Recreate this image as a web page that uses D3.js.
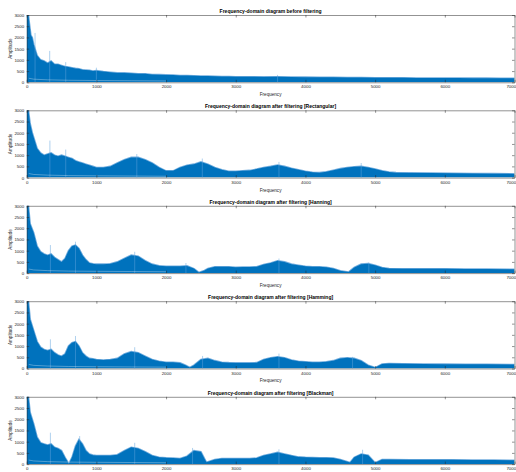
<!DOCTYPE html>
<html>
<head>
<meta charset="utf-8">
<script src="https://cdn.jsdelivr.net/npm/d3@7"></script>
<style>
  body { margin: 0; background: #fff; }
  svg { display: block; font-family: "Liberation Sans", Arial, sans-serif; }
  .axis path, .axis line { stroke: #262626; stroke-width: 0.5; }
  .axis text { fill: #262626; font-size: 4.4px; }
</style>
</head>
<body>
<svg id="chart"></svg>
<script>
// tick values
var freqTicks = [0, 1000, 2000, 3000, 4000, 5000, 6000, 7000];
var ampTicks = [0, 500, 1000, 1500, 2000, 2500, 3000];

var titles = [
  "Frequency-domain diagram before filtering",
  "Frequency-domain diagram after filtering [Rectangular]",
  "Frequency-domain diagram after filtering [Hanning]",
  "Frequency-domain diagram after filtering [Hamming]",
  "Frequency-domain diagram after filtering [Blackman]"
];

// envelope of the spectrum, [frequency, amplitude]
var before = [[0,3000],[25,3000],[40,2600],[60,2100],[80,2000],[100,1700],[150,1200],[200,1000],
  [250,950],[300,850],[350,950],[400,800],[450,800],[500,750],[550,700],[600,680],[650,650],
  [700,620],[750,600],[800,560],[850,550],[900,540],[950,500],[1000,520],[1100,480],[1200,450],
  [1300,420],[1400,420],[1500,400],[1600,380],[1700,380],[1800,350],[1900,340],[2000,330],
  [2100,320],[2200,300],[2300,300],[2400,290],[2500,280],[2600,280],[2700,270],[2800,260],
  [2900,260],[3000,250],[3200,245],[3400,240],[3600,250],[3800,235],[4000,230],[4200,225],
  [4400,220],[4600,215],[4800,210],[5000,205],[5200,205],[5400,200],[5600,195],[5800,195],
  [6000,190],[6200,190],[6400,185],[6600,185],[6800,180],[7000,175]];

var rectangular = [[0,3000],[25,3000],[50,2400],[80,2000],[100,1800],[150,1300],[200,1100],
  [250,1000],[300,1050],[350,1100],[400,1000],[450,950],[500,1000],[550,950],[600,900],
  [650,850],[700,750],[750,700],[800,650],[850,600],[900,550],[950,500],[1000,450],[1100,450],
  [1200,500],[1300,650],[1400,800],[1500,900],[1600,900],[1700,800],[1800,650],[1900,450],
  [2000,300],[2100,300],[2200,450],[2300,550],[2400,600],[2500,700],[2600,600],[2700,450],
  [2800,350],[2900,280],[3000,280],[3100,300],[3200,320],[3300,380],[3400,450],[3500,500],
  [3600,560],[3700,500],[3800,420],[3900,350],[4000,280],[4100,240],[4200,220],[4300,260],
  [4400,330],[4500,400],[4600,450],[4700,480],[4800,500],[4900,450],[5000,380],[5100,300],
  [5200,250],[5300,220],[5500,210],[5800,200],[6100,190],[6400,185],[6700,175],[7000,165]];

var hanning = [[0,3000],[25,3000],[50,2200],[100,1800],[150,1200],[200,950],[250,850],
  [300,800],[350,850],[400,700],[450,600],[500,500],[550,650],[600,1000],[650,1200],[700,1250],
  [750,1100],[800,800],[850,600],[900,450],[950,420],[1000,400],[1100,400],[1200,420],
  [1300,500],[1400,650],[1500,800],[1600,750],[1700,550],[1800,400],[1900,330],[2000,300],
  [2100,300],[2200,300],[2300,320],[2400,200],[2470,30],[2550,120],[2600,200],[2700,280],
  [2800,280],[2900,280],[3000,260],[3100,270],[3200,270],[3300,280],[3400,380],[3500,450],
  [3600,550],[3700,500],[3800,400],[3900,350],[4000,300],[4100,280],[4200,280],[4300,260],
  [4400,200],[4500,100],[4620,50],[4700,250],[4800,400],[4900,420],[5000,350],[5100,250],
  [5200,200],[5400,195],[5700,190],[6000,190],[6300,185],[6600,180],[7000,170]];

var hamming = [[0,3000],[25,3000],[50,2200],[100,1700],[150,1200],[200,950],[250,850],
  [300,800],[350,850],[400,700],[450,600],[500,550],[550,650],[600,1000],[650,1150],[700,1200],
  [750,1000],[800,700],[850,550],[900,450],[950,430],[1000,400],[1100,380],[1200,400],
  [1300,450],[1400,650],[1500,750],[1600,700],[1700,550],[1800,400],[1900,320],[2000,280],
  [2100,280],[2200,250],[2280,150],[2340,50],[2400,150],[2500,400],[2600,450],[2700,350],
  [2800,280],[2900,260],[3000,250],[3100,250],[3200,250],[3300,260],[3400,400],[3500,480],
  [3600,520],[3700,480],[3800,380],[3900,320],[4000,300],[4100,280],[4200,280],[4300,300],
  [4400,350],[4500,450],[4600,480],[4700,450],[4800,350],[4900,150],[5000,40],[5100,200],
  [5200,220],[5400,210],[5700,200],[6000,195],[6300,190],[6600,185],[7000,175]];

var blackman = [[0,3000],[25,3000],[50,2300],[100,1800],[150,1200],[200,950],[250,900],
  [300,850],[350,900],[400,750],[450,700],[500,600],[550,300],[605,20],[650,300],[700,800],
  [750,1100],[800,900],[850,600],[900,450],[950,400],[1000,380],[1100,380],[1200,380],
  [1300,420],[1400,600],[1500,750],[1600,700],[1700,550],[1800,380],[1900,300],[2000,280],
  [2100,270],[2200,250],[2300,350],[2400,600],[2500,550],[2550,250],[2580,80],[2700,200],
  [2800,250],[2900,250],[3000,250],[3100,250],[3200,250],[3300,270],[3400,380],[3500,450],
  [3600,520],[3700,450],[3800,380],[3900,320],[4000,300],[4100,290],[4200,285],[4300,280],
  [4400,270],[4500,200],[4640,70],[4700,300],[4800,450],[4900,400],[5000,60],[5100,200],
  [5200,200],[5500,195],[5800,190],[6100,190],[6400,185],[6700,180],[7000,170]];

// tallest single spikes above the envelope
var beforeSpikes = [[120,2200],[330,1400],[560,900],[1000,650],[3600,330]];
var rectSpikes = [[333,1650],[560,1250],[1580,1050],[2520,850],[3620,700],[4800,650]];
var hanningSpikes = [[340,1250],[700,1400],[1550,950],[2285,450],[3620,650],[4910,480]];
var hammingSpikes = [[340,1300],[700,1450],[1550,950],[2524,560],[3620,665],[4676,520]];
var blackmanSpikes = [[340,1400],[760,1250],[1550,950],[2380,720],[3620,660],[4820,640]];

// pale band of small values just above the baseline
var floorBand = [[30,180],[100,140],[300,110],[600,90],[1000,80],[1500,70],[2000,60]];

var series = [before, rectangular, hanning, hamming, blackman];
var spikes = [beforeSpikes, rectSpikes, hanningSpikes, hammingSpikes, blackmanSpikes];

var W = 516, H = 472;
var left = 26.7, right = 514.5;
var plotH = 67.3;
var tops = [15, 110.3, 205.8, 301.2, 396.8];

var blue = "#0072bd";

var svg = d3.select("#chart").attr("width", W).attr("height", H);

var x = d3.scaleLinear().domain([0, 7000]).range([left, right]);
var y = d3.scaleLinear().domain([0, 3000]).range([plotH, 0]);

var area = d3.area()
  .x(function(d) { return x(d[0]); })
  .y0(y(0))
  .y1(function(d) { return y(d[1]); });

var line = d3.line()
  .x(function(d) { return x(d[0]); })
  .y(function(d) { return y(d[1]); });

series.forEach(function(data, i) {
  var g = svg.append("g").attr("transform", "translate(0," + tops[i] + ")");

  var clipId = "clip" + i;
  g.append("clipPath").attr("id", clipId)
    .append("rect")
      .attr("x", left).attr("y", 0)
      .attr("width", right - left).attr("height", plotH);

  var plot = g.append("g").attr("clip-path", "url(#" + clipId + ")");

  // fuzzy top edge first, then the solid body
  plot.append("path")
    .datum(data)
    .attr("d", line)
    .attr("fill", "none")
    .attr("stroke", "#4f98d6")
    .attr("stroke-opacity", 0.8)
    .attr("stroke-width", 1.6);

  plot.append("path")
    .datum(data)
    .attr("d", area)
    .attr("fill", blue);

  plot.selectAll("line.spike")
    .data(spikes[i])
    .enter()
    .append("line")
      .attr("class", "spike")
      .attr("x1", function(d) { return x(d[0]); })
      .attr("x2", function(d) { return x(d[0]); })
      .attr("y1", y(0))
      .attr("y2", function(d) { return y(d[1]); })
      .attr("stroke", "#5ea3dc")
      .attr("stroke-width", 0.5);

  plot.append("path")
    .datum(floorBand)
    .attr("d", line)
    .attr("fill", "none")
    .attr("stroke", "#fff")
    .attr("stroke-opacity", 0.45)
    .attr("stroke-width", 0.7);

  // bottom axis with labels
  var xAxis = g.append("g")
    .attr("class", "axis")
    .attr("transform", "translate(0," + plotH + ")")
    .call(d3.axisBottom(x).tickValues(freqTicks).tickSizeInner(-2.5).tickSizeOuter(0)
      .tickPadding(3).tickFormat(d3.format("d")));

  // keep the last label inside the window
  xAxis.selectAll(".tick text")
    .filter(function(d) { return d === 7000; })
    .attr("text-anchor", "end")
    .attr("x", W - right - 0.3);

  // left axis with labels
  g.append("g")
    .attr("class", "axis")
    .attr("transform", "translate(" + left + ",0)")
    .call(d3.axisLeft(y).tickValues(ampTicks).tickSizeInner(-2.5).tickSizeOuter(0)
      .tickPadding(2.5).tickFormat(d3.format("d")));

  // top and right box edges, ticks only
  g.append("g")
    .attr("class", "axis")
    .call(d3.axisTop(x).tickValues(freqTicks).tickSizeInner(-2.5).tickSizeOuter(0).tickFormat(""));

  g.append("g")
    .attr("class", "axis")
    .attr("transform", "translate(" + right + ",0)")
    .call(d3.axisRight(y).tickValues(ampTicks).tickSizeInner(-2.5).tickSizeOuter(0).tickFormat(""));

  g.append("text")
    .attr("x", (left + right) / 2)
    .attr("y", -2)
    .attr("text-anchor", "middle")
    .attr("fill", "#000")
    .style("font-size", "5px")
    .style("font-weight", "bold")
    .text(titles[i]);

  // the last panel's x label falls below the window in the reference
  if (i < series.length - 1) {
    g.append("text")
      .attr("x", (left + right) / 2)
      .attr("y", plotH + 14)
      .attr("text-anchor", "middle")
      .attr("fill", "#262626")
      .style("font-size", "4.6px")
      .text("Frequency");
  }

  g.append("text")
    .attr("transform", "translate(12.3," + (plotH / 2) + ") rotate(-90)")
    .attr("text-anchor", "middle")
    .attr("fill", "#262626")
    .style("font-size", "4.6px")
    .text("Amplitude");
});
</script>
</body>
</html>
